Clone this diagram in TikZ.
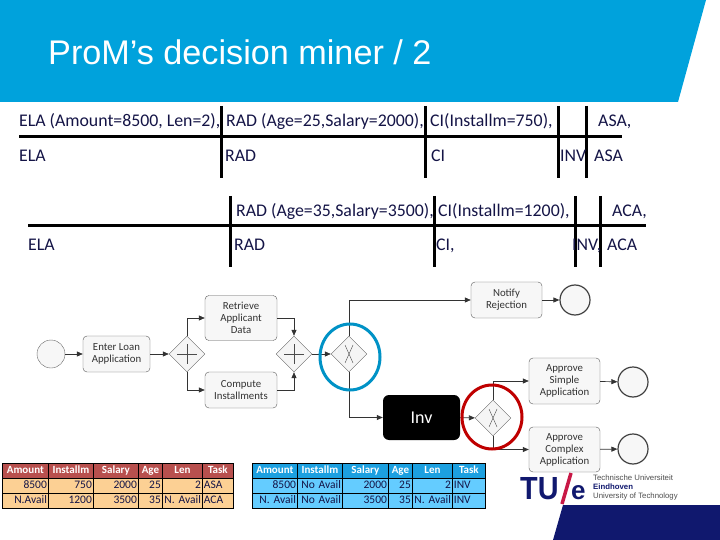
\documentclass[tikz,border=0pt]{standalone}
\usepackage{fontspec}
\setmainfont{Carlito}
\newfontfamily\arialfont{Liberation Sans}
\usetikzlibrary{shapes.geometric,arrows.meta}
\definecolor{banner}{RGB}{0,162,220}
\definecolor{tuenavy}{RGB}{16,24,110}
\definecolor{tuered}{RGB}{200,24,70}
\definecolor{inktext}{RGB}{20,20,70}
\definecolor{redhead}{RGB}{184,80,78}
\definecolor{redcell}{RGB}{252,208,148}
\definecolor{bluehead}{RGB}{28,160,224}
\definecolor{bluecell}{RGB}{100,204,255}
\tikzset{
  trace/.style={line width=3pt},
  sep/.style={line width=3pt},
  evlabel/.style={anchor=base west, inner sep=0pt, text=inktext, font=\fontsize{17.8}{18}\selectfont},
  task/.style={draw=black!65, rounded corners=4pt, fill=black!3, align=center, inner sep=0pt,
    text=black!80, font=\fontsize{10.8}{12}\selectfont},
  event/.style={circle, draw=black!60, fill=black!3, minimum size=28pt, inner sep=0pt},
  endevent/.style={event, draw=black!75, line width=1.2pt, minimum size=30pt},
  gate/.style={diamond, draw=black!60, fill=black!4, minimum size=36pt, inner sep=0pt},
  flow/.style={draw=black!80, line width=0.7pt, -{Triangle[length=6pt,width=5pt]}},
  cell/.style={draw=black, line width=0.8pt, anchor=north west, minimum height=15pt, inner xsep=1.5pt,
    inner ysep=2.5pt, text height=8pt, text depth=2pt, font=\fontsize{11.5}{10}\selectfont, text=inktext},
  headcell/.style={cell, text=white, align=center, font=\bfseries\fontsize{11}{10}\selectfont},
  bodycell/.style={cell}
}
\begin{document}
\begin{tikzpicture}[x=1pt,y=-1pt]
  \useasboundingbox (0,0) rectangle (720,540);

  % Banner
  \fill[banner] (0,0) -- (706,0) -- (678,102) -- (0,102) -- cycle;
  \node (title) [anchor=base west, inner sep=0pt, text=white, font=\arialfont\fontsize{34.2}{34}\selectfont]
    at (48,65) {ProM’s decision miner / 2};

  % First trace
  \draw[trace] (19,137) -- (622,137);
  \foreach \xp in {221,425,558,586}
    \draw[sep] (\xp,106) -- (\xp,178);
  \node (elaa) [evlabel] at (19,127) {ELA (Amount=8500, Len=2),};
  \node (rada) [evlabel] at (226,127) {RAD (Age=25,Salary=2000),};
  \node (cia) [evlabel] at (430,127) {CI(Installm=750),};
  \node (asaa) [evlabel] at (598,127) {ASA,};
  \node (elab) [evlabel] at (19,162) {ELA};
  \node (radb) [evlabel] at (225,162) {RAD};
  \node (cib) [evlabel] at (431,162) {CI};
  \node (invb) [evlabel] at (560,162) {INV};
  \node (asab) [evlabel] at (594,162) {ASA};

  % Second trace
  \draw[trace] (28,226) -- (646,226);
  \foreach \xp in {230,434,575,600}
    \draw[sep] (\xp,196) -- (\xp,267);
  \node (radc) [evlabel] at (236,216) {RAD (Age=35,Salary=3500),};
  \node (cic) [evlabel] at (438,216) {CI(Installm=1200),};
  \node (acac) [evlabel] at (612,216) {ACA,};
  \node (elad) [evlabel] at (28,251) {ELA};
  \node (radd) [evlabel] at (234,251) {RAD};
  \node (cid) [evlabel] at (436,251) {CI,};
  \node (invd) [evlabel] at (572,251) {INV,};
  \node (acad) [evlabel] at (607,251) {ACA};

  % Process
  \node (start) [event] at (51,354) {};
  \node (enter) [task, minimum width=67pt, minimum height=36pt] at (116.5,354) {Enter Loan\\Application};
  \node (split) [gate] at (187,354) {};
  \node (retrieve) [task, minimum width=72pt, minimum height=45pt] at (241,318) {Retrieve\\Applicant\\Data};
  \node (compute) [task, minimum width=72pt, minimum height=36pt] at (241,390) {Compute\\Installments};
  \node (join) [gate] at (294,354) {};
  \node (choiceA) [gate] at (349,354) {};
  \node (notify) [task, minimum width=71pt, minimum height=36pt] at (506.5,300) {Notify\\Rejection};
  \node (endA) [endevent] at (575,300) {};
  \node (inv) [fill=black, rounded corners=6pt, minimum width=77pt, minimum height=45pt, text=white,
    inner sep=0pt, font=\fontsize{18}{18}\selectfont] at (421.5,417.5) {Inv};
  \node (choiceB) [gate] at (493,418) {};
  \node (simple) [task, minimum width=71pt, minimum height=46pt] at (564.5,381) {Approve\\Simple\\Application};
  \node (complex) [task, minimum width=71pt, minimum height=45pt] at (564.5,449.5) {Approve\\Complex\\Application};
  \node (endB) [endevent] at (633,382) {};
  \node (endC) [endevent] at (633,449) {};

  % Gateway marks
  \foreach \gw in {split,join} {
    \draw[black!70] (\gw.center) +(-10,0) -- +(10,0);
    \draw[black!70] (\gw.center) +(0,-10) -- +(0,10);
  }
  \foreach \gw in {choiceA,choiceB} {
    \draw[black!70] (\gw.center) +(-4,-9) -- +(4,9);
    \draw[black!70] (\gw.center) +(4,-9) -- +(-4,9);
  }

  % Flows
  \draw[flow] (start) -- (enter);
  \draw[flow] (enter) -- (split);
  \draw[flow] (split.north) |- (retrieve.west);
  \draw[flow] (split.south) |- (compute.west);
  \draw[flow] (retrieve.east) -| (join.north);
  \draw[flow] (compute.east) -| (join.south);
  \draw[flow] (join) -- (choiceA);
  \draw[flow] (choiceA.north) |- (notify.west);
  \draw[flow] (choiceA.south) |- (inv.west);
  \draw[flow] (notify) -- (endA);
  \draw[flow] (inv) -- (choiceB);
  \draw[flow] (choiceB.north) |- (simple.west);
  \draw[flow] (choiceB.south) |- (complex.west);
  \draw[flow] (simple) -- (endB);
  \draw[flow] (complex) -- (endC);

  % Highlights
  \node (ringA) [ellipse, draw=banner!90!black, line width=3pt, minimum width=60pt, minimum height=66pt] at (350,357) {};
  \node (ringB) [ellipse, draw=red!75!black, line width=3pt, minimum width=60pt, minimum height=64pt] at (492,417) {};

  % Left table
  \foreach \nm/\xa/\colw/\hdr/\vala/\valb/\aln in {
    a/2/46/Amount/8500/N.Avail/right,
    b/48/45/Installm/750/1200/right,
    c/93/45/Salary/2000/3500/right,
    d/138/24/Age/25/35/right,
    e/162/40/Len/2/N. Avail/right,
    f/202/31/Task/ASA/ACA/left} {
    \node (lh\nm) [headcell, fill=redhead, minimum width=\colw pt, text width=\colw pt-3pt] at (\xa,463) {\hdr};
    \node (lr\nm) [bodycell, fill=redcell, minimum width=\colw pt, text width=\colw pt-3pt, align/.expanded=\aln] at (\xa,478) {\vala};
    \node (ls\nm) [bodycell, fill=redcell, minimum width=\colw pt, text width=\colw pt-3pt, align/.expanded=\aln] at (\xa,493) {\valb};
  }

  % Right table
  \foreach \nm/\xa/\colw/\hdr/\vala/\valb/\aln in {
    a/252/45/Amount/8500/N. Avail/right,
    b/297/45/Installm/No Avail/No Avail/right,
    c/342/46/Salary/2000/3500/right,
    d/388/24/Age/25/35/right,
    e/412/40/Len/2/N. Avail/right,
    f/452/33/Task/INV/INV/left} {
    \node (rh\nm) [headcell, fill=bluehead, minimum width=\colw pt, text width=\colw pt-3pt] at (\xa,463) {\hdr};
    \node (rr\nm) [bodycell, fill=bluecell, minimum width=\colw pt, text width=\colw pt-3pt, align/.expanded=\aln] at (\xa,478) {\vala};
    \node (rs\nm) [bodycell, fill=bluecell, minimum width=\colw pt, text width=\colw pt-3pt, align/.expanded=\aln] at (\xa,493) {\valb};
  }

  % Logo
  \fill[tuenavy] (563,505) -- (720,505) -- (720,540) -- (553,540) -- cycle;
  \node (tu) [anchor=base west, inner sep=0pt, text=tuenavy, xscale=0.9, font=\arialfont\bfseries\fontsize{32}{32}\selectfont] at (520,499) {TU};
  \draw[tuered, line width=3.5pt] (571,473) -- (562,504);
  \node (e) [anchor=base west, inner sep=0pt, text=tuenavy, font=\arialfont\bfseries\fontsize{26}{26}\selectfont] at (571,499) {e};
  \node (tutext) [anchor=north west, inner sep=0pt, align=left, text=black!70, font=\arialfont\fontsize{7.8}{9}\selectfont] at (593,475)
    {Technische Universiteit\\{\color{tuenavy}\bfseries Eindhoven}\\University of Technology};
\end{tikzpicture}
\end{document}
